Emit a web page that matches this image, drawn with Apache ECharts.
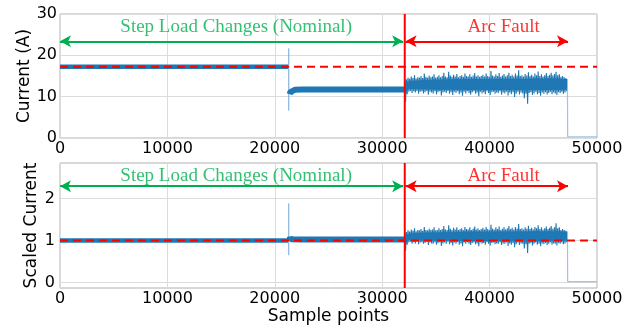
<!DOCTYPE html>
<html><head><meta charset="utf-8">
<script src="https://cdn.jsdelivr.net/npm/echarts@6/dist/echarts.min.js"></script>
<style>html,body{margin:0;padding:0;background:#fff}#c{width:637px;height:330px}</style>
</head><body><div id="c"></div>
<script>
// ---------- data ----------
const xTickValues = [0, 10000, 20000, 30000, 40000, 50000];
const yTicksTop = [0, 10, 20, 30];
const yTicksBottom = [0, 1, 2];
const stepX = 21300, faultX = 32100, endX = 47250, xMax = 50000;
const nominalTop = 17.25, nominalBottom = 1.0;

// top panel: Current (A)
const seg1Top = [[0, 17.25], [21250, 17.25]];
const spikeTop = [[21300, 21.7], [21300, 6.6]];
const seg2Top = [[21380, 10.6], [21450, 11.1], [21600, 11.45], [21900, 11.7], [22500, 11.75], [32080, 11.75]];
// dense core of the arc-fault band (x from faultX to endX, evenly spaced)
const arcCoreHiTop = [13.6, 14.0, 14.1, 14.2, 14.3, 14.3, 14.3, 14.3, 14.4, 14.4, 14.3];
const arcCoreLoTop = [11.9, 11.8, 11.7, 11.7, 11.6, 11.6, 11.6, 11.6, 11.6, 11.6, 11.7];
// fringe envelope (peaks above / dips below), evenly spaced from faultX to endX
const arcHiTop = [
  14.0,14.2,14.6,14.3,14.9,14.5,15.2,14.4,14.7,14.6, 15.0,14.5,15.6,14.8,14.6,15.1,14.7,14.9,15.4,14.6,
  14.8,15.2,14.7,15.0,15.8,14.9,14.7,16.0,15.1,14.8, 15.3,14.9,15.5,14.7,15.0,15.2,14.8,15.6,15.0,14.9,
  15.4,14.8,15.1,15.7,14.9,15.2,14.8,15.0,15.3,14.9, 15.6,15.0,14.8,16.2,15.1,14.9,15.4,15.0,15.7,14.8,
  15.1,15.5,14.9,15.2,15.8,15.0,15.3,14.9,15.6,15.1, 16.4,15.0,15.2,14.9,15.5,15.1,15.9,15.0,15.3,14.9,
  15.6,15.2,16.1,15.0,15.4,14.9,15.2,15.7,15.0,15.3, 15.8,15.1,15.5,16.0,15.2,15.4,14.8,15.0,14.7,14.5];
const arcLoTop = [
  8.8,10.6,11.2,11.4,10.9,11.3,11.0,11.4,10.7,11.2, 11.3,10.8,11.1,11.4,10.5,11.2,11.0,10.8,11.3,10.6,
  11.1,11.3,10.3,11.0,11.2,10.9,11.4,10.7,11.1,10.4, 11.2,10.9,11.3,10.6,11.0,10.2,11.2,10.8,11.3,10.9,
  10.5,11.1,11.3,10.7,11.0,10.1,11.2,10.8,11.1,10.6, 11.3,10.9,10.4,11.1,11.2,10.7,11.0,10.9,11.3,10.5,
  11.0,10.8,11.2,10.3,11.0,10.6,11.1,9.9,10.7,11.2, 10.5,11.0,10.8,9.6,10.7,8.3,10.9,11.1,10.4,10.8,
  11.2,10.6,10.9,10.2,11.0,10.7,11.1,10.5,10.9,11.2, 10.6,11.0,10.8,10.4,11.1,10.9,11.2,10.7,11.0,11.3];
const tailTop = [[47250, 12.0], [47270, 0.3], [50000, 0.3]];

// bottom panel: Scaled Current
const seg1Bottom = [[0, 1.0], [21250, 1.0]];
const spikeBottom = [[21300, 1.88], [21300, 0.65]];
const seg2Bottom = [[21380, 1.0], [21420, 1.08], [21500, 1.03], [22500, 1.02], [32080, 1.02]];
const arcCoreHiBottom = [1.15, 1.18, 1.19, 1.20, 1.21, 1.21, 1.21, 1.21, 1.22, 1.22, 1.21];
const arcCoreLoBottom = [1.01, 1.00, 0.99, 0.99, 0.98, 0.98, 0.98, 0.98, 0.98, 0.98, 0.99];
const arcHiBottom = [
  1.19,1.20,1.24,1.21,1.26,1.23,1.29,1.22,1.25,1.24, 1.27,1.23,1.32,1.25,1.24,1.28,1.25,1.26,1.31,1.24,
  1.25,1.29,1.25,1.27,1.34,1.26,1.25,1.36,1.28,1.25, 1.30,1.26,1.31,1.25,1.27,1.29,1.25,1.32,1.27,1.26,
  1.31,1.25,1.28,1.33,1.26,1.29,1.25,1.27,1.30,1.26, 1.32,1.27,1.25,1.37,1.28,1.26,1.31,1.27,1.33,1.25,
  1.28,1.31,1.26,1.29,1.34,1.27,1.30,1.26,1.32,1.28, 1.39,1.27,1.29,1.26,1.31,1.28,1.35,1.27,1.30,1.26,
  1.32,1.29,1.36,1.27,1.31,1.26,1.29,1.33,1.27,1.30, 1.34,1.28,1.31,1.41,1.29,1.31,1.25,1.27,1.25,1.23];
const arcLoBottom = [
  0.75,0.90,0.95,0.97,0.92,0.96,0.93,0.97,0.91,0.95, 0.96,0.92,0.94,0.97,0.89,0.95,0.93,0.92,0.96,0.90,
  0.94,0.96,0.87,0.93,0.95,0.92,0.97,0.91,0.94,0.88, 0.95,0.92,0.96,0.90,0.93,0.86,0.95,0.92,0.96,0.92,
  0.89,0.94,0.96,0.91,0.93,0.86,0.95,0.92,0.94,0.90, 0.96,0.92,0.88,0.94,0.95,0.91,0.93,0.92,0.96,0.89,
  0.93,0.92,0.95,0.87,0.93,0.90,0.94,0.84,0.91,0.95, 0.89,0.93,0.92,0.81,0.91,0.70,0.92,0.94,0.88,0.92,
  0.95,0.90,0.92,0.86,0.93,0.91,0.94,0.89,0.92,0.95, 0.90,0.93,0.92,0.88,0.94,0.92,0.95,0.91,0.93,0.96];
const tailBottom = [[47250, 1.02], [47270, 0.02], [50000, 0.02]];

// annotations
const arrowYTop = 23.4, arrowYBottom = 2.29;
const textYTop = 26.8, textYBottom = 2.54;
const nominalTextX = 16400, faultTextX = 41300;
const nominalArrowEnd = 31950, faultArrowEnd = 47300;
const yBottomMin = -0.13, yBottomMax = 2.84;

// ---------- build ----------
function zig(hi, lo, x0, x1) {
  const step = (x1 - x0) / hi.length, out = [];
  for (let i = 0; i < hi.length; i++) {
    out.push([x0 + i * step, hi[i]]);
    out.push([x0 + i * step + step / 2, lo[i]]);
  }
  return out;
}
function bandSeries(idx, hi, lo, x0, x1, color) {
  const n = hi.length, step = (x1 - x0) / (n - 1);
  const pts = [];
  for (let i = 0; i < n; i++) pts.push([x0 + i * step, hi[i]]);
  for (let i = n - 1; i >= 0; i--) pts.push([x0 + i * step, lo[i]]);
  return {
    type: 'custom', xAxisIndex: idx, yAxisIndex: idx, animation: false, silent: true, z: 2,
    data: [0],
    renderItem: function (params, api) {
      return {type: 'polygon', shape: {points: pts.map(p => api.coord(p))}, style: {fill: color}};
    }
  };
}
const BLUE = '#1f77b4', LIGHT = '#9fc3e2', RED = '#ff0000', GREEN = '#00b050';
const sans = 'DejaVu Sans', serif = 'Liberation Serif';

function panel(idx, d) {
  const base = {type: 'line', xAxisIndex: idx, yAxisIndex: idx, showSymbol: false, symbol: 'none', animation: false, silent: true};
  return [
    Object.assign({}, base, {data: d.seg1, lineStyle: {color: BLUE, width: 4.5}, z: 2}),
    Object.assign({}, base, {data: d.spike, lineStyle: {color: '#6fa6d6', width: 1}, z: 2}),
    Object.assign({}, base, {data: d.seg2, lineStyle: {color: BLUE, width: 6, cap: 'butt'}, z: 2}),
    bandSeries(idx, d.coreHi, d.coreLo, faultX + 60, endX, BLUE),
    Object.assign({}, base, {data: zig(d.hi, d.lo, faultX, endX), lineStyle: {color: BLUE, width: 1.1}, z: 2}),
    Object.assign({}, base, {data: d.tail, lineStyle: {color: LIGHT, width: 1.2}, z: 2}),
    Object.assign({}, base, {data: [[0, d.nominal], [xMax, d.nominal]], lineStyle: {color: RED, width: 2, type: [8, 5]}, z: 4}),
    Object.assign({}, base, {data: [[faultX, d.ymin], [faultX, d.ymax]], lineStyle: {color: RED, width: 2}, z: 5,
      markLine: {silent: true, animation: false, symbol: ['arrow', 'arrow'], symbolSize: [9, 11], label: {show: false},
        data: [
          [{coord: [0, d.arrowY], lineStyle: {color: GREEN, width: 2, type: 'solid'}, itemStyle: {color: GREEN}}, {coord: [nominalArrowEnd, d.arrowY]}],
          [{coord: [faultX + 80, d.arrowY], lineStyle: {color: RED, width: 2, type: 'solid'}, itemStyle: {color: RED}}, {coord: [faultArrowEnd, d.arrowY]}]
        ]}}),
    {type: 'scatter', xAxisIndex: idx, yAxisIndex: idx, symbolSize: 0, animation: false, silent: true, z: 6,
      data: [
        {value: [nominalTextX, d.textY], label: {show: true, position: 'inside', formatter: 'Step Load Changes (Nominal)', color: GREEN, fontFamily: serif, fontSize: 19}},
        {value: [faultTextX, d.textY], label: {show: true, position: 'inside', formatter: 'Arc Fault', color: RED, fontFamily: serif, fontSize: 19}}
      ]}
  ];
}

const axisText = {fontFamily: sans, fontSize: 16, color: '#000'};
const plain = v => String(v);
const xAxisBase = {
  type: 'value', min: 0, max: xMax, interval: 10000,
  axisLine: {show: false}, axisTick: {show: false},
  axisLabel: Object.assign({margin: 3, customValues: xTickValues, formatter: plain}, axisText),
  splitLine: {show: true, lineStyle: {color: '#dcdcdc', width: 1}}
};

const option = {
  backgroundColor: '#fff',
  animation: false,
  grid: [
    {left: 60, top: 14, width: 537, height: 124, show: true, borderColor: '#b0b0b0', borderWidth: 1, backgroundColor: 'transparent'},
    {left: 60, top: 163, width: 537, height: 125, show: true, borderColor: '#b0b0b0', borderWidth: 1, backgroundColor: 'transparent'}
  ],
  xAxis: [
    Object.assign({gridIndex: 0}, xAxisBase),
    Object.assign({gridIndex: 1, name: 'Sample points', nameLocation: 'middle', nameGap: 20, nameMoveOverlap: false,
      nameTextStyle: {fontFamily: sans, fontSize: 17, color: '#000'}}, xAxisBase)
  ],
  yAxis: [
    {gridIndex: 0, type: 'value', min: 0, max: 30, interval: 10,
      name: 'Current (A)', nameLocation: 'middle', nameGap: 27, nameRotate: 90, nameMoveOverlap: false,
      nameTextStyle: {fontFamily: sans, fontSize: 17, color: '#000'},
      axisLine: {show: false}, axisTick: {show: false},
      axisLabel: Object.assign({margin: 3, customValues: yTicksTop, formatter: plain}, axisText),
      splitLine: {show: true, lineStyle: {color: '#dcdcdc', width: 1}}},
    {gridIndex: 1, type: 'value', min: yBottomMin, max: yBottomMax,
      name: 'Scaled Current', nameLocation: 'middle', nameGap: 20, nameRotate: 90, nameMoveOverlap: false,
      nameTextStyle: {fontFamily: sans, fontSize: 17, color: '#000'},
      axisLine: {show: false}, axisTick: {show: false, customValues: yTicksBottom},
      axisLabel: Object.assign({margin: 5, customValues: yTicksBottom, formatter: plain}, axisText),
      splitLine: {show: true, lineStyle: {color: '#dcdcdc', width: 1}}}
  ],
  series: [].concat(
    panel(0, {seg1: seg1Top, spike: spikeTop, seg2: seg2Top, coreHi: arcCoreHiTop, coreLo: arcCoreLoTop, hi: arcHiTop, lo: arcLoTop, tail: tailTop,
      nominal: nominalTop, ymin: 0, ymax: 30, arrowY: arrowYTop, textY: textYTop}),
    panel(1, {seg1: seg1Bottom, spike: spikeBottom, seg2: seg2Bottom, coreHi: arcCoreHiBottom, coreLo: arcCoreLoBottom, hi: arcHiBottom, lo: arcLoBottom, tail: tailBottom,
      nominal: nominalBottom, ymin: yBottomMin, ymax: yBottomMax, arrowY: arrowYBottom, textY: textYBottom})
  )
};
const chart = echarts.init(document.getElementById('c'), null, {renderer: 'canvas'});
chart.setOption(option);
</script></body></html>
